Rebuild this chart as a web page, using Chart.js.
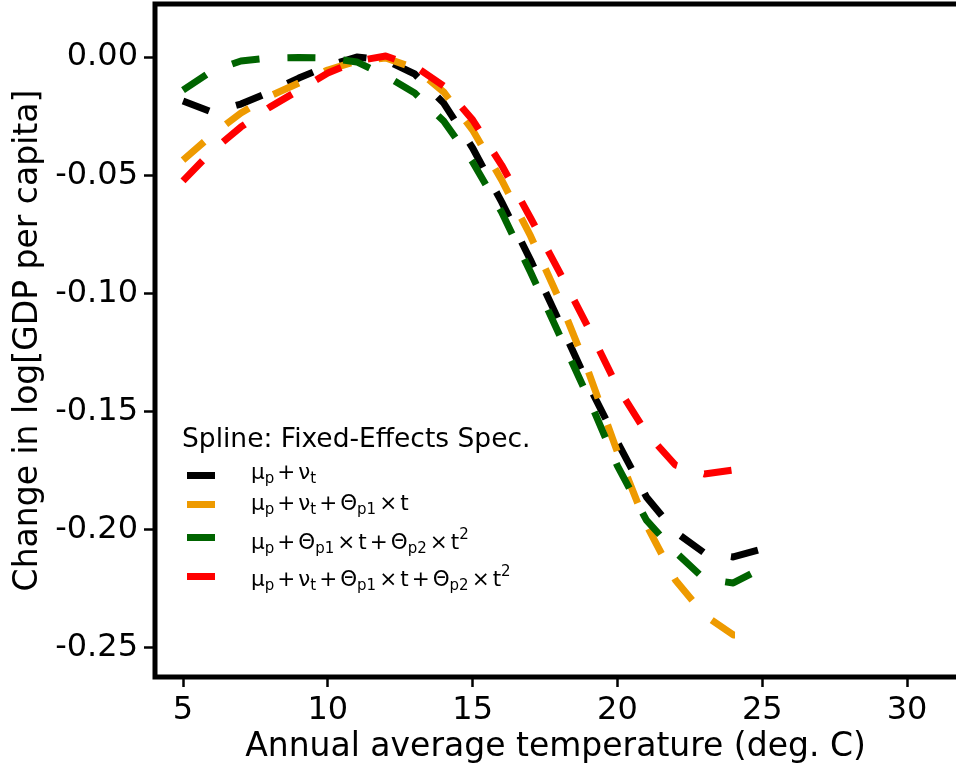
<!DOCTYPE html>
<html>
<head>
<meta charset="utf-8">
<script src="https://cdn.jsdelivr.net/npm/chart.js@4.4.1/dist/chart.umd.min.js"></script>
<style>
  html, body { margin: 0; padding: 0; background: #fff; }
  #wrap { position: relative; width: 956px; height: 769px; overflow: hidden; background: #fff; }
  #c { position: absolute; left: 0; top: 0; }
  .lg { position: absolute; font-family: "DejaVu Sans", sans-serif; color: #000; white-space: nowrap; line-height: 1; }
  .lg-title { font-size: 26.5px; }
  .lg-row { font-size: 21.5px; }
  .lg-row sub, .lg-row sup { font-size: 15px; line-height: 0; }
  .lg-row sub { vertical-align: -4px; }
  .lg-row sup { vertical-align: 10px; }
  .op { margin: 0 3px; }
  .sw { position: absolute; width: 28px; height: 7px; }
</style>
</head>
<body>
<div id="wrap">
  <canvas id="c" width="956" height="769"></canvas>
  <div id="legend"></div>
</div>
<script>
// ---- data ----
const tempsFull  = [5,6,7,8,9,10,11,12,13,14,15,16,17,18,19,20,21,22,23,24,25];
const tempsShort = [5,6,7,8,9,10,11,12,13,14,15,16,17,18,19,20,21,22,23,24,24.5];

const blackVals  = [-0.0186,-0.0233,-0.0199,-0.0148,-0.0089,-0.0038,0.0000,-0.0013,-0.0072,-0.0195,-0.0385,-0.0613,-0.0859,-0.1121,-0.1387,-0.1629,-0.1861,-0.2009,-0.2098,-0.2115,-0.2081];
const orangeVals = [-0.0436,-0.0330,-0.0237,-0.0165,-0.0110,-0.0055,-0.0017,-0.0004,-0.0047,-0.0148,-0.0309,-0.0520,-0.0757,-0.1028,-0.1332,-0.1671,-0.1980,-0.2212,-0.2360,-0.2445,-0.2445];
const greenVals  = [-0.0140,-0.0059,-0.0017,-0.0004,-0.0002,-0.0004,-0.0021,-0.0080,-0.0152,-0.0271,-0.0444,-0.0656,-0.0910,-0.1176,-0.1442,-0.1730,-0.1959,-0.2094,-0.2208,-0.2225,-0.2162];
const redVals    = [-0.0524,-0.0398,-0.0296,-0.0212,-0.0140,-0.0068,-0.0017,0.0004,-0.0038,-0.0123,-0.0266,-0.0457,-0.0681,-0.0910,-0.1146,-0.1396,-0.1590,-0.1726,-0.1764,-0.1747,-0.1710];

const xTickVals = [5,10,15,20,25,30];
const yTickVals = [0,-0.05,-0.10,-0.15,-0.20,-0.25];

const seriesNames = ["μp + νt", "μp + νt + Θp1 × t", "μp + Θp1 × t + Θp2 × t2", "μp + νt + Θp1 × t + Θp2 × t2"];
const seriesHtml = [
  'μ<sub>p</sub><span class="op">+</span>ν<sub>t</sub>',
  'μ<sub>p</sub><span class="op">+</span>ν<sub>t</sub><span class="op">+</span>Θ<sub>p1</sub><span class="op">×</span>t',
  'μ<sub>p</sub><span class="op">+</span>Θ<sub>p1</sub><span class="op">×</span>t<span class="op">+</span>Θ<sub>p2</sub><span class="op">×</span>t<sup>2</sup>',
  'μ<sub>p</sub><span class="op">+</span>ν<sub>t</sub><span class="op">+</span>Θ<sub>p1</sub><span class="op">×</span>t<span class="op">+</span>Θ<sub>p2</sub><span class="op">×</span>t<sup>2</sup>'
];
const legendTitle = "Spline: Fixed-Effects Spec.";
const colors = ["#000000", "#EE9A00", "#006400", "#FF0000"];

function pts(xs, ys) { return xs.map((x, i) => ({x: x, y: ys[i]})); }

const seriesData = [
  pts(tempsFull, blackVals),
  pts(tempsShort, orangeVals),
  pts(tempsFull, greenVals),
  pts(tempsShort, redVals)
];

const datasets = seriesData.map((d, i) => ({
  label: seriesNames[i],
  data: d,
  borderColor: colors[i],
  backgroundColor: colors[i],
  borderWidth: 7,
  borderDash: [28, 28],
  borderCapStyle: 'butt',
  borderJoinStyle: 'round',
  pointRadius: 0,
  tension: 0,
  fill: false,
  order: 4 - i
}));

const framePlugin = {
  id: 'frame',
  afterDatasetsDraw(chart) {
    const {ctx, chartArea: a} = chart;
    ctx.save();
    ctx.strokeStyle = '#000';
    ctx.lineWidth = 5;
    ctx.lineJoin = 'miter';
    ctx.beginPath();
    ctx.moveTo(a.right + 10, a.top);
    ctx.lineTo(a.left, a.top);
    ctx.lineTo(a.left, a.bottom);
    ctx.lineTo(a.right + 10, a.bottom);
    ctx.stroke();
    ctx.restore();
  }
};

const tickFont = {family: "DejaVu Sans", size: 32};
const titleFont = {family: "DejaVu Sans", size: 33};

new Chart(document.getElementById('c'), {
  type: 'line',
  data: { datasets: datasets },
  options: {
    responsive: false,
    animation: false,
    devicePixelRatio: 1,
    layout: { padding: {top: 4, left: 0, right: 0, bottom: 0} },
    plugins: { legend: {display: false}, tooltip: {enabled: false} },
    scales: {
      x: {
        type: 'linear',
        min: 4.033,
        max: 31.69,
        afterBuildTicks(s) { s.ticks = xTickVals.map(v => ({value: v})); },
        afterFit(s) { s.height = 92; s.paddingLeft = 0; s.paddingRight = 0; s.paddingTop = 0; s.paddingBottom = 0; },
        ticks: { color: '#000', font: tickFont, padding: 4, maxRotation: 0, autoSkip: false,
                 callback: v => String(v) },
        grid: { display: true, drawOnChartArea: false, drawTicks: true, tickLength: 10, tickWidth: 2.5, tickColor: '#000' },
        border: { display: false },
        title: { display: true, text: 'Annual average temperature (deg. C)', color: '#000', font: titleFont,
                 padding: {top: 0, bottom: 2} }
      },
      y: {
        type: 'linear',
        min: -0.26227,
        max: 0.02242,
        afterBuildTicks(s) { s.ticks = yTickVals.map(v => ({value: v})); },
        afterFit(s) { s.width = 155; s.paddingLeft = 0; s.paddingRight = 0; s.paddingTop = 0; s.paddingBottom = 0; },
        ticks: { color: '#000', font: tickFont, padding: 6, autoSkip: false,
                 callback: v => v.toFixed(2) },
        grid: { display: true, drawOnChartArea: false, drawTicks: true, tickLength: 11, tickWidth: 2.5, tickColor: '#000' },
        border: { display: false },
        title: { display: true, text: 'Change in log[GDP per capita]', color: '#000', font: titleFont,
                 padding: {top: 9, bottom: 0} }
      }
    }
  },
  plugins: [framePlugin]
});

// ---- legend (HTML text, placed inside the plot area) ----
const lg = document.getElementById('legend');
const titleDiv = document.createElement('div');
titleDiv.className = 'lg lg-title';
titleDiv.style.left = '182px';
titleDiv.style.top = '425px';
titleDiv.textContent = legendTitle;
lg.appendChild(titleDiv);
const swatchY = [475, 504, 537.5, 576];
const rowBase = [479, 510, 549, 586];
seriesHtml.forEach((h, i) => {
  const sw = document.createElement('div');
  sw.className = 'sw';
  sw.style.left = '187px';
  sw.style.top = (swatchY[i] - 3.5) + 'px';
  sw.style.background = colors[i];
  lg.appendChild(sw);
  const row = document.createElement('div');
  row.className = 'lg lg-row';
  row.style.left = '251px';
  row.style.top = (rowBase[i] - 18) + 'px';
  row.innerHTML = h;
  lg.appendChild(row);
});
</script>
</body>
</html>
